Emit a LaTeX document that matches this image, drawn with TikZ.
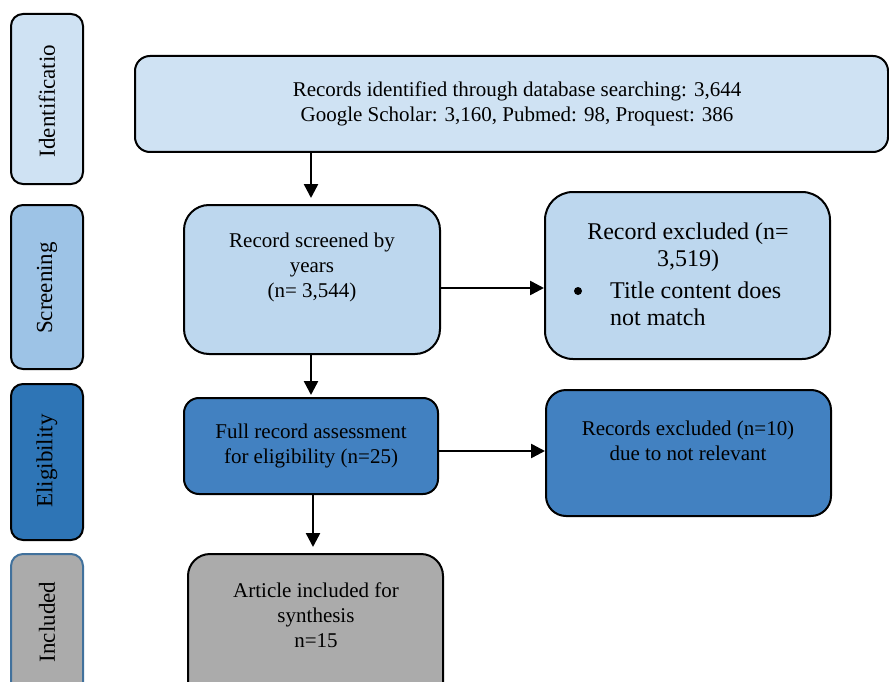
\documentclass[tikz,border=0pt]{standalone}
\usepackage{fontspec}
\setmainfont{Liberation Serif}
\usetikzlibrary{arrows.meta}
\definecolor{cIdent}{HTML}{CFE2F3}
\definecolor{cScrBar}{HTML}{9DC3E6}
\definecolor{cScr}{HTML}{BDD7EE}
\definecolor{cEliBar}{HTML}{2E75B6}
\definecolor{cEli}{HTML}{4281C1}
\definecolor{cInc}{HTML}{ABABAB}
\definecolor{cIncBorder}{HTML}{41719C}
\tikzset{
  box/.style={draw=black, line width=2pt, inner sep=0pt, rounded corners=#1},
  box/.default=14pt,
  bartext/.style={rotate=90, font=\fontsize{23}{27}\selectfont, inner sep=0pt},
  txt/.style={align=center, font=\fontsize{21}{25}\selectfont, inner sep=0pt},
  bigtxt/.style={font=\fontsize{24}{27}\selectfont, inner sep=0pt},
  bulletdot/.style={circle, fill=black, minimum size=8pt, inner sep=0pt},
  arr/.style={line width=2.5pt, -{Triangle[length=14pt,width=14pt]}}
}
\begin{document}
\begin{tikzpicture}[x=1pt,y=-1pt]
\useasboundingbox (0,0) rectangle (889,682);
\clip (0,0) rectangle (889,682);
% side bars
\node[box=12pt, fill=cIdent, minimum width=72pt, minimum height=170pt] (bid) at (47,99) {};
\node[bartext] (tid) at (47,101) {Identificatio};
\node[box=12pt, fill=cScrBar, minimum width=72pt, minimum height=164pt] (bscr) at (47,287) {};
\node[bartext] (tscr) at (47,288) {Screening};
\node[box=12pt, fill=cEliBar, minimum width=72pt, minimum height=156pt] (beli) at (47,462) {};
\node[bartext] (teli) at (47,461) {Eligibility};
\node[box=12pt, draw=cIncBorder, fill=cInc, minimum width=72pt, minimum height=150pt] (binc) at (47,629) {};
\node[bartext] (tinc) at (47,622) {Included};
% main boxes
\node[box=15pt, fill=cIdent, minimum width=753pt, minimum height=96pt] (top) at (511.5,104) {};
\node[txt] (ttop) at (517,104) {Records identified through database searching: 3,644\\Google Scholar: 3,160, Pubmed: 98, Proquest: 386};
\node[box=25pt, fill=cScr, minimum width=256pt, minimum height=149pt] (scr) at (312,279.5) {};
\node[txt] (tscrb) at (312,267) {Record screened by\\years\\(n= 3,544)};
\node[box=28pt, fill=cScr, minimum width=285pt, minimum height=167pt] (ex1) at (687.5,275.5) {};
\node[bigtxt, align=center] (tex1) at (688,247) {Record excluded (n=\\3,519)};
\node[bulletdot] (bul) at (578,291) {};
\node[bigtxt, align=left, anchor=west] (tex1b) at (610,304) {Title content does\\not match};
\node[box=15pt, fill=cEli, minimum width=254pt, minimum height=96pt] (eli) at (311,446) {};
\node[txt] (telib) at (311,446) {Full record assessment\\for eligibility (n=25)};
\node[box=20pt, fill=cEli, minimum width=285pt, minimum height=126pt] (ex2) at (688.5,453) {};
\node[txt] (tex2) at (688,441) {Records excluded (n=10)\\due to not relevant};
\node[box=22pt, fill=cInc, minimum width=255pt, minimum height=150pt] (inc) at (315.5,629) {};
\node[txt] (tinc2) at (316,615) {Article included for\\synthesis\\n=15};
% arrows
\draw[arr, shorten >=6pt] (top.south -| 311,0) -- (scr.north -| 311,0);
\draw[arr] ([yshift=-8.5pt]scr.east) -- ([yshift=-8.5pt]scr.east -| ex1.west);
\draw[arr, shorten >=2pt] (scr.south -| 311,0) -- (eli.north -| 311,0);
\draw[arr] ([yshift=-5pt]eli.east) -- ([yshift=-5pt]eli.east -| ex2.west);
\draw[arr, shorten >=6pt] (eli.south -| 313,0) -- (inc.north -| 313,0);
\end{tikzpicture}
\end{document}
